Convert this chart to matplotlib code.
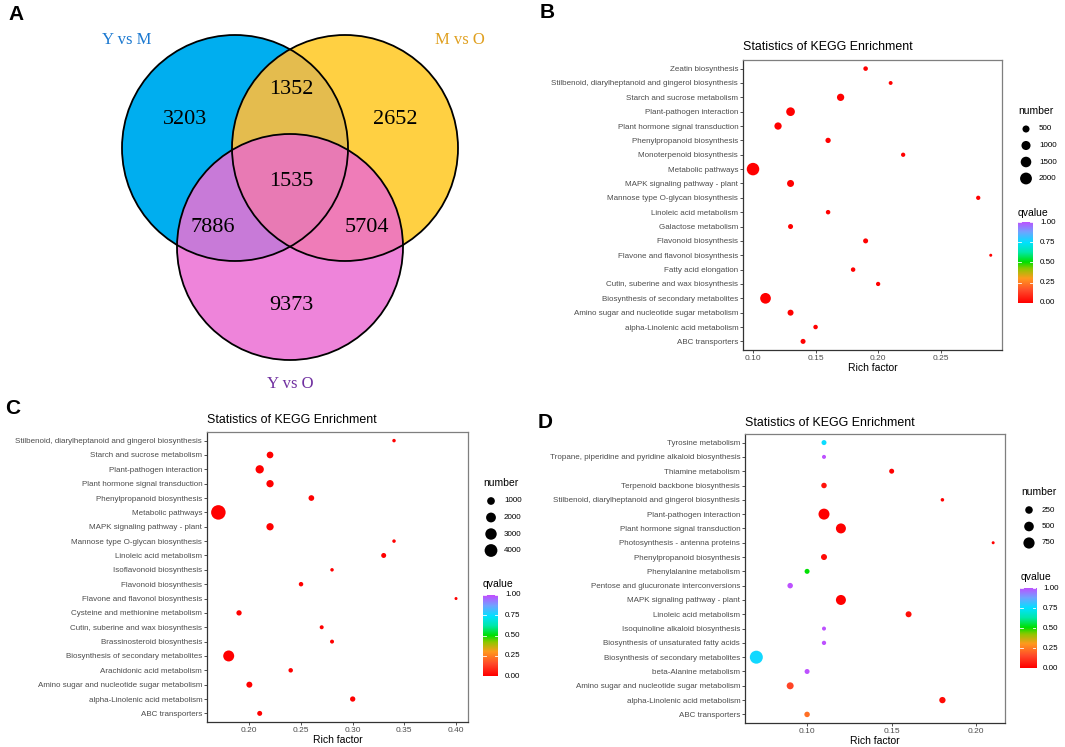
import numpy as np
import matplotlib
matplotlib.use("Agg")
import matplotlib.pyplot as plt
from matplotlib.patches import Circle, Polygon
from matplotlib.colors import LinearSegmentedColormap

plt.rcParams["font.family"] = ["Liberation Sans", "DejaVu Sans"]

W, H = 1065, 747

# ---- Panel A: Venn counts ----
venn_sets = ["Y vs M", "M vs O", "Y vs O"]
venn_counts = {"100": 3203, "010": 2652, "001": 9373,
               "110": 1352, "101": 7886, "011": 5704, "111": 1535}

# ---- Panel B ----
b_terms = ["Zeatin biosynthesis",
           "Stilbenoid, diarylheptanoid and gingerol biosynthesis",
           "Starch and sucrose metabolism",
           "Plant-pathogen interaction",
           "Plant hormone signal transduction",
           "Phenylpropanoid biosynthesis",
           "Monoterpenoid biosynthesis",
           "Metabolic pathways",
           "MAPK signaling pathway - plant",
           "Mannose type O-glycan biosynthesis",
           "Linoleic acid metabolism",
           "Galactose metabolism",
           "Flavonoid biosynthesis",
           "Flavone and flavonol biosynthesis",
           "Fatty acid elongation",
           "Cutin, suberine and wax biosynthesis",
           "Biosynthesis of secondary metabolites",
           "Amino sugar and nucleotide sugar metabolism",
           "alpha-Linolenic acid metabolism",
           "ABC transporters"]
b_rich = [0.19, 0.21, 0.17, 0.13, 0.12, 0.16, 0.22, 0.10, 0.13, 0.28,
          0.16, 0.13, 0.19, 0.29, 0.18, 0.20, 0.11, 0.13, 0.15, 0.14]
b_number = [160, 120, 550, 890, 550, 230, 140, 2300, 490, 140,
            155, 200, 200, 100, 155, 140, 1540, 320, 155, 200]
b_q = [0.0] * 20

# ---- Panel C ----
c_terms = ["Stilbenoid, diarylheptanoid and gingerol biosynthesis",
           "Starch and sucrose metabolism",
           "Plant-pathogen interaction",
           "Plant hormone signal transduction",
           "Phenylpropanoid biosynthesis",
           "Metabolic pathways",
           "MAPK signaling pathway - plant",
           "Mannose type O-glycan biosynthesis",
           "Linoleic acid metabolism",
           "Isoflavonoid biosynthesis",
           "Flavonoid biosynthesis",
           "Flavone and flavonol biosynthesis",
           "Cysteine and methionine metabolism",
           "Cutin, suberine and wax biosynthesis",
           "Brassinosteroid biosynthesis",
           "Biosynthesis of secondary metabolites",
           "Arachidonic acid metabolism",
           "Amino sugar and nucleotide sugar metabolism",
           "alpha-Linolenic acid metabolism",
           "ABC transporters"]
c_rich = [0.34, 0.22, 0.21, 0.22, 0.26, 0.17, 0.22, 0.34, 0.33, 0.28,
          0.25, 0.40, 0.19, 0.27, 0.28, 0.18, 0.24, 0.20, 0.30, 0.21]
c_number = [110, 660, 1250, 850, 400, 5500, 850, 110, 263, 110,
            190, 100, 316, 140, 140, 2700, 190, 470, 316, 263]
c_q = [0.0] * 20

# ---- Panel D ----
d_terms = ["Tyrosine metabolism",
           "Tropane, piperidine and pyridine alkaloid biosynthesis",
           "Thiamine metabolism",
           "Terpenoid backbone biosynthesis",
           "Stilbenoid, diarylheptanoid and gingerol biosynthesis",
           "Plant-pathogen interaction",
           "Plant hormone signal transduction",
           "Photosynthesis - antenna proteins",
           "Phenylpropanoid biosynthesis",
           "Phenylalanine metabolism",
           "Pentose and glucuronate interconversions",
           "MAPK signaling pathway - plant",
           "Linoleic acid metabolism",
           "Isoquinoline alkaloid biosynthesis",
           "Biosynthesis of unsaturated fatty acids",
           "Biosynthesis of secondary metabolites",
           "beta-Alanine metabolism",
           "Amino sugar and nucleotide sugar metabolism",
           "alpha-Linolenic acid metabolism",
           "ABC transporters"]
d_rich = [0.11, 0.11, 0.15, 0.11, 0.18, 0.11, 0.12, 0.21, 0.11, 0.10,
          0.09, 0.12, 0.16, 0.11, 0.11, 0.07, 0.10, 0.09, 0.18, 0.10]
d_number = [73, 41, 73, 97, 33, 715, 555, 30, 126, 73,
            97, 555, 126, 41, 48, 1100, 73, 200, 147, 97]
d_q = [0.75, 0.99, 0.0, 0.04, 0.0, 0.0, 0.0, 0.0, 0.02, 0.5,
       0.99, 0.0, 0.03, 0.99, 0.99, 0.76, 0.99, 0.14, 0.02, 0.22]

qcmap = LinearSegmentedColormap.from_list("q", [
    (0.0, "#ff0000"), (0.15, "#ff4a2a"), (0.3, "#ff9a1e"), (0.42, "#8cc800"),
    (0.5, "#00e000"), (0.62, "#00e8a8"), (0.74, "#00e2ff"), (0.87, "#70a4ff"),
    (1.0, "#c24cff")])

fig = plt.figure(figsize=(W / 100, H / 100), dpi=100)


def px_axes(x0, y0, x1, y1):
    return fig.add_axes([x0 / W, 1 - y1 / H, (x1 - x0) / W, (y1 - y0) / H])


overlay = px_axes(0, 0, W, H)
overlay.set_xlim(0, W)
overlay.set_ylim(H, 0)
overlay.axis("off")
overlay.set_zorder(5)


def diam(n, nmin, nmax, c0, c1):
    return c0 + c1 * np.sqrt((np.asarray(n, float) - nmin) / (nmax - nmin))


# ---- Venn ----
va = px_axes(0, 0, 530, 395)
va.set_xlim(0, 530)
va.set_ylim(395, 0)
va.set_aspect("equal")
va.axis("off")
R = 113
centers = [(235, 148), (345, 148), (290, 247)]
base_cols = ["#00aeef", "#ffd042", "#ee84da"]
region_cols = {"110": "#e4bc4e", "101": "#c87ad8", "011": "#ef7cb8",
               "111": "#e87ab4"}


def inter_poly(idx):
    # convex intersection of circles idx, sampled on their boundaries
    th = np.linspace(0, 2 * np.pi, 720, endpoint=False)
    pts = []
    for i in idx:
        cx, cy = centers[i]
        p = np.c_[cx + R * np.cos(th), cy + R * np.sin(th)]
        ok = np.ones(len(p), bool)
        for j in idx:
            if j != i:
                ok &= np.hypot(p[:, 0] - centers[j][0], p[:, 1] - centers[j][1]) <= R + 1e-6
        pts.append(p[ok])
    pts = np.vstack(pts)
    m = pts.mean(axis=0)
    order = np.argsort(np.arctan2(pts[:, 1] - m[1], pts[:, 0] - m[0]))
    return pts[order]


for c, col in zip(centers, base_cols):
    va.add_patch(Circle(c, R, facecolor=col, edgecolor="none"))
for key, idx in [("110", (0, 1)), ("101", (0, 2)), ("011", (1, 2)),
                 ("111", (0, 1, 2))]:
    va.add_patch(Polygon(inter_poly(idx), closed=True,
                         facecolor=region_cols[key], edgecolor="none"))
for c in centers:
    va.add_patch(Circle(c, R, facecolor="none", edgecolor="black", lw=1.3))
venn_pos = {"100": (185, 120), "010": (395, 120), "001": (291, 305),
            "110": (291, 90), "101": (213, 228), "011": (367, 228), "111": (291, 181)}
for k, v in venn_counts.items():
    va.text(*venn_pos[k], str(v), ha="center", va="center", fontsize=16,
            family="Liberation Serif")
set_pos = [(127, 40), (460, 40), (290, 384)]
set_col = ["#1a78d0", "#e0a020", "#7030a0"]
for s, p, c in zip(venn_sets, set_pos, set_col):
    va.text(*p, s, ha="center", va="center", fontsize=12, color=c,
            family="Liberation Serif")


def bubble(box, terms, rich, number, q, xlim, xticks, xtl, c0, c1, title_y,
           leg_vals, leg):
    x0, y0, x1, y1 = box
    ax = px_axes(x0, y0, x1, y1)
    n = len(terms)
    ys = np.arange(n)[::-1]
    nmin, nmax = min(number), max(number)
    d = diam(number, nmin, nmax, c0, c1)
    ax.scatter(rich, ys, s=(d * 0.72) ** 2, c=q, cmap=qcmap, vmin=0, vmax=1,
               edgecolors="none", zorder=3)
    ax.set_xlim(*xlim)
    ax.set_ylim(-0.6, n - 0.4)
    ax.set_yticks(ys)
    ax.set_yticklabels(terms, fontsize=5.8, color="#4d4d4d")
    ax.set_xticks(xticks)
    ax.set_xticklabels(xtl, fontsize=6, color="#4d4d4d")
    ax.tick_params(length=2, width=0.6, color="#333333", pad=1.5)
    for sp in ax.spines.values():
        sp.set_color("#7f7f7f")
        sp.set_linewidth(0.9)
    ax.spines["left"].set_color("#333333")
    ax.spines["bottom"].set_color("#333333")
    ax.set_xlabel("Rich factor", fontsize=7.5, labelpad=1)
    overlay.text(x0, title_y, "Statistics of KEGG Enrichment", fontsize=8.9,
                 va="center", ha="left")
    # size legend
    lx, ly, lstep, qy, cb = leg
    overlay.text(lx - 8, ly - 18, "number", fontsize=7.5, va="center")
    ld = diam(leg_vals, nmin, nmax, c0, c1)
    for i, (v, dd) in enumerate(zip(leg_vals, ld)):
        overlay.scatter([lx], [ly + i * lstep], s=(dd * 0.72) ** 2, c="black",
                        edgecolors="none")
        overlay.text(lx + 13, ly + i * lstep, str(v), fontsize=5.8, va="center")
    overlay.text(lx - 8, qy, "qvalue", fontsize=7.5, va="center")
    cbx0, cby0, cbx1, cby1 = cb
    cax = px_axes(cbx0, cby0, cbx1, cby1)
    cax.imshow(np.linspace(1, 0, 200)[:, None], aspect="auto", cmap=qcmap,
               vmin=0, vmax=1, extent=(0, 1, 0, 1))
    cax.set_xticks([])
    cax.set_yticks([])
    for sp in cax.spines.values():
        sp.set_visible(False)
    for t in [0, 0.25, 0.5, 0.75, 1.0]:
        yy = cby1 - t * (cby1 - cby0)
        cax.plot([0, 0.18], [t, t], color="white", lw=0.6)
        cax.plot([0.82, 1], [t, t], color="white", lw=0.6)
        overlay.text(cbx1 + 7, yy, f"{t:.2f}", fontsize=5.8, va="center")
    cax.set_ylim(0, 1)
    cax.set_xlim(0, 1)
    return ax


bubble((743, 60, 1002, 350), b_terms, b_rich, b_number, b_q,
       (0.092, 0.299), [0.10, 0.15, 0.20, 0.25], ["0.10", "0.15", "0.20", "0.25"],
       3, 9.5, 47, [500, 1000, 1500, 2000],
       (1026, 129, 16.5, 213, (1018, 222, 1033, 303)))

bubble((207, 432, 468, 722), c_terms, c_rich, c_number, c_q,
       (0.159, 0.4116), [0.20, 0.25, 0.30, 0.35, 0.40],
       ["0.20", "0.25", "0.30", "0.35", "0.40"],
       3, 11.5, 420, [1000, 2000, 3000, 4000],
       (491, 501, 16.5, 584, (483, 595, 498, 676)))

bubble((745, 434, 1005, 723), d_terms, d_rich, d_number, d_q,
       (0.0633, 0.217), [0.10, 0.15, 0.20], ["0.10", "0.15", "0.20"],
       3, 10, 423, [250, 500, 750],
       (1029, 510, 16.5, 577, (1020, 588, 1036, 668)))

for lab, x, y in [("A", 8, 15), ("B", 540, 12), ("C", 5, 408), ("D", 538, 423)]:
    overlay.text(x, y, lab, fontsize=15, fontweight="bold", va="center",
                 ha="left")

fig.savefig("out.png", dpi=100)
